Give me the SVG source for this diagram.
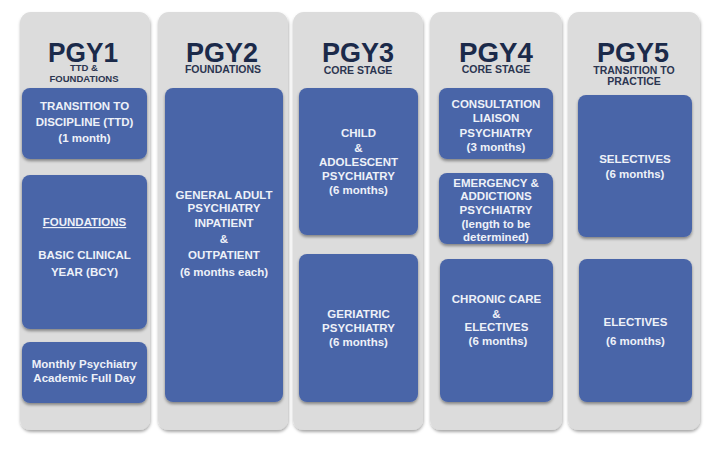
<svg xmlns="http://www.w3.org/2000/svg" width="720" height="450" viewBox="0 0 720 450">
  <defs>
    <style>
      .col { fill: #dcdcdc; }
      .box { fill: #4a65a8; }
      .hdr { font-family: "Liberation Sans", Arial, sans-serif; font-weight: bold; font-size: 28px; fill: #1b2a4a; text-anchor: middle; }
      .sub { font-family: "Liberation Sans", Arial, sans-serif; font-weight: bold; font-size: 10.5px; fill: #2b3550; text-anchor: middle; }
      .sub1 { font-size: 9.5px; }
      .bt { font-family: "Liberation Sans", Arial, sans-serif; font-weight: bold; font-size: 11.5px; fill: #eef1f8; text-anchor: middle; }
    </style>
    <filter id="colShadow" x="-10%" y="-5%" width="120%" height="110%">
      <feDropShadow dx="0.5" dy="2" stdDeviation="1.5" flood-color="#000" flood-opacity="0.35"/>
    </filter>
    <filter id="boxShadow" x="-10%" y="-10%" width="120%" height="125%">
      <feDropShadow dx="0" dy="2" stdDeviation="1.5" flood-color="#000" flood-opacity="0.4"/>
    </filter>
  </defs>
  <rect width="720" height="450" fill="#ffffff"/>

  <g id="pgy1">
    <rect class="col" x="20" y="12" width="130" height="418" rx="11" filter="url(#colShadow)"/>
    <text class="hdr" x="83" y="62" textLength="70" lengthAdjust="spacingAndGlyphs">PGY1</text>
    <text class="sub sub1" x="84" y="71">TTD &amp;</text>
    <text class="sub sub1" x="84" y="82">FOUNDATIONS</text>
  </g>
  <g id="ttd">
    <rect class="box" x="22" y="88" width="125" height="71" rx="8" filter="url(#boxShadow)"/>
    <text class="bt" x="84.5" y="110">TRANSITION TO</text>
    <text class="bt" x="84.5" y="126">DISCIPLINE (TTD)</text>
    <text class="bt" x="84.5" y="142">(1 month)</text>
  </g>
  <g id="foundations">
    <rect class="box" x="22" y="175" width="125" height="154" rx="8" filter="url(#boxShadow)"/>
    <text class="bt" x="84.5" y="226" text-decoration="underline">FOUNDATIONS</text>
    <text class="bt" x="84.5" y="259">BASIC CLINICAL</text>
    <text class="bt" x="84.5" y="276">YEAR (BCY)</text>
  </g>
  <g id="academic">
    <rect class="box" x="22" y="342" width="125" height="61" rx="8" filter="url(#boxShadow)"/>
    <text class="bt" x="84.5" y="368">Monthly Psychiatry</text>
    <text class="bt" x="84.5" y="382">Academic Full Day</text>
  </g>

  <g id="pgy2">
    <rect class="col" x="158" y="12" width="130" height="418" rx="11" filter="url(#colShadow)"/>
    <text class="hdr" x="222" y="62" textLength="72" lengthAdjust="spacingAndGlyphs">PGY2</text>
    <text class="sub" x="223" y="73">FOUNDATIONS</text>
  </g>
  <g id="general-adult">
    <rect class="box" x="165" y="88" width="118" height="314" rx="8" filter="url(#boxShadow)"/>
    <text class="bt" x="224" y="199">GENERAL ADULT</text>
    <text class="bt" x="224" y="212">PSYCHIATRY</text>
    <text class="bt" x="224" y="227">INPATIENT</text>
    <text class="bt" x="224" y="243">&amp;</text>
    <text class="bt" x="224" y="259">OUTPATIENT</text>
    <text class="bt" x="224" y="276">(6 months each)</text>
  </g>

  <g id="pgy3">
    <rect class="col" x="293" y="12" width="130" height="418" rx="11" filter="url(#colShadow)"/>
    <text class="hdr" x="358" y="62" textLength="72" lengthAdjust="spacingAndGlyphs">PGY3</text>
    <text class="sub" x="358" y="74">CORE STAGE</text>
  </g>
  <g id="child">
    <rect class="box" x="299" y="88" width="119" height="147" rx="8" filter="url(#boxShadow)"/>
    <text class="bt" x="358.5" y="137">CHILD</text>
    <text class="bt" x="358.5" y="152">&amp;</text>
    <text class="bt" x="358.5" y="166">ADOLESCENT</text>
    <text class="bt" x="358.5" y="180">PSYCHIATRY</text>
    <text class="bt" x="358.5" y="194">(6 months)</text>
  </g>
  <g id="geriatric">
    <rect class="box" x="299" y="254" width="119" height="148" rx="8" filter="url(#boxShadow)"/>
    <text class="bt" x="358.5" y="318">GERIATRIC</text>
    <text class="bt" x="358.5" y="332">PSYCHIATRY</text>
    <text class="bt" x="358.5" y="346">(6 months)</text>
  </g>

  <g id="pgy4">
    <rect class="col" x="430" y="12" width="132" height="418" rx="11" filter="url(#colShadow)"/>
    <text class="hdr" x="496" y="62" textLength="74" lengthAdjust="spacingAndGlyphs">PGY4</text>
    <text class="sub" x="496" y="73">CORE STAGE</text>
  </g>
  <g id="consultation">
    <rect class="box" x="439" y="88" width="114" height="71" rx="8" filter="url(#boxShadow)"/>
    <text class="bt" x="496" y="108">CONSULTATION</text>
    <text class="bt" x="496" y="122">LIAISON</text>
    <text class="bt" x="496" y="137">PSYCHIATRY</text>
    <text class="bt" x="496" y="151">(3 months)</text>
  </g>
  <g id="emergency">
    <rect class="box" x="439" y="173" width="114" height="71" rx="8" filter="url(#boxShadow)"/>
    <text class="bt" x="496" y="187">EMERGENCY &amp;</text>
    <text class="bt" x="496" y="200">ADDICTIONS</text>
    <text class="bt" x="496" y="214">PSYCHIATRY</text>
    <text class="bt" x="496" y="228">(length to be</text>
    <text class="bt" x="496" y="241">determined)</text>
  </g>
  <g id="chronic">
    <rect class="box" x="440" y="259" width="113" height="143" rx="8" filter="url(#boxShadow)"/>
    <text class="bt" x="496.5" y="303">CHRONIC CARE</text>
    <text class="bt" x="496.5" y="318">&amp;</text>
    <text class="bt" x="496.5" y="331">ELECTIVES</text>
    <text class="bt" x="498" y="345">(6 months)</text>
  </g>

  <g id="pgy5">
    <rect class="col" x="568" y="12" width="132" height="418" rx="11" filter="url(#colShadow)"/>
    <text class="hdr" x="633" y="62" textLength="72" lengthAdjust="spacingAndGlyphs">PGY5</text>
    <text class="sub" x="634" y="74">TRANSITION TO</text>
    <text class="sub" x="634" y="85">PRACTICE</text>
  </g>
  <g id="selectives">
    <rect class="box" x="578" y="95" width="114" height="142" rx="8" filter="url(#boxShadow)"/>
    <text class="bt" x="635" y="163">SELECTIVES</text>
    <text class="bt" x="635" y="178">(6 months)</text>
  </g>
  <g id="electives">
    <rect class="box" x="579" y="259" width="113" height="143" rx="8" filter="url(#boxShadow)"/>
    <text class="bt" x="635.5" y="326">ELECTIVES</text>
    <text class="bt" x="635.5" y="345">(6 months)</text>
  </g>

  <g id="connectors"/>
</svg>
